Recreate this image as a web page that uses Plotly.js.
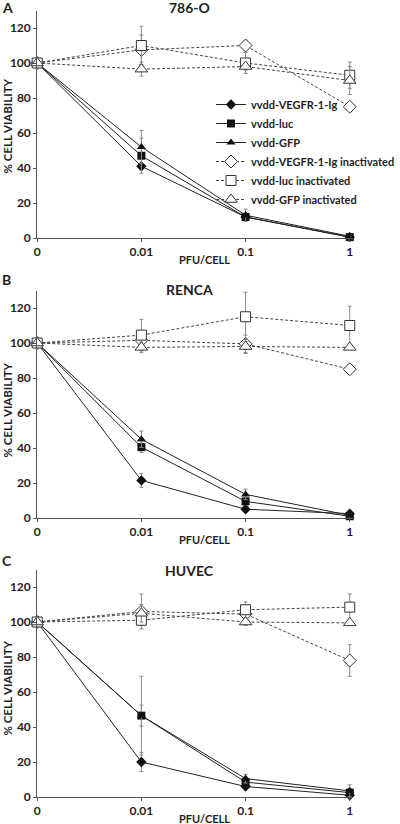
<!DOCTYPE html>
<html><head><meta charset="utf-8">
<script src="https://cdn.plot.ly/plotly-3.0.1.min.js"></script>
<style>html,body{margin:0;padding:0;background:#fff}#chart{width:400px;height:824px}</style>
</head><body><div id="chart"></div>
<script>
// ---- data ----
const doses = ['0', '0.01', '0.1', '1'];
const yTicks = [0, 20, 40, 60, 80, 100, 120];
const seriesNames = ['vvdd-VEGFR-1-Ig', 'vvdd-luc', 'vvdd-GFP',
  'vvdd-VEGFR-1-Ig inactivated', 'vvdd-luc inactivated', 'vvdd-GFP inactivated'];
const panelTitles = ['786-O', 'RENCA', 'HUVEC'];
const panelLetters = ['A', 'B', 'C'];
const xTitle = 'PFU/CELL';
const yTitle = '% CELL VIABILITY';

// 786-O
const o786_vegfr = [100, 41, 12, 0.5];
const o786_luc = [100, 47, 12, 0.5];
const o786_gfp = [100, 52, 13, 1];
const o786_vegfrInact = [100, 107.5, 110, 75];
const o786_lucInact = [100, 110, 100, 93];
const o786_gfpInact = [100, 96.5, 98, 90];
const o786_vegfrErr = [0, 1.5, 1.5, 0.5];
const o786_lucErr = [0, 10, 2, 0.5];
const o786_gfpErr = [0, 9.5, 3.5, 1];
const o786_vegfrInactErr = [0, 8.5, 3, 2];
const o786_lucInactErr = [0, 11, 6, 7.5];
const o786_gfpInactErr = [0, 4, 2, 8];

// RENCA
const renca_vegfr = [100, 21.5, 5, 2.5];
const renca_luc = [100, 40.5, 9.5, 1];
const renca_gfp = [100, 45, 13.5, 1.5];
const renca_vegfrInact = [100, 101.5, 99.5, 85];
const renca_lucInact = [100, 104.5, 115, 110];
const renca_gfpInact = [100, 97.5, 98, 97.5];
const renca_vegfrErr = [0, 4, 1, 1];
const renca_lucErr = [0, 3, 2, 0.5];
const renca_gfpErr = [0, 4.7, 3, 1];
const renca_vegfrInactErr = [0, 3, 5, 2.5];
const renca_lucInactErr = [0, 9, 14, 11];
const renca_gfpInactErr = [0, 3, 4, 1];

// HUVEC
const huvec_vegfr = [100, 20, 6, 1];
const huvec_luc = [100, 46.5, 8.5, 2.5];
const huvec_gfp = [100, 46.5, 10.5, 3.5];
const huvec_vegfrInact = [100, 106, 104.5, 78];
const huvec_lucInact = [100, 101, 107, 108.5];
const huvec_gfpInact = [100, 105, 100, 99.5];
const huvec_vegfrErr = [0, 5.5, 1, 1];
const huvec_lucErr = [0, 22.5, 2, 2];
const huvec_gfpErr = [0, 6, 2.5, 3.5];
const huvec_vegfrInactErr = [0, 10, 3, 9];
const huvec_lucInactErr = [0, 3, 4.5, 7.5];
const huvec_gfpInactErr = [0, 5, 2, 1];

const panels = [
  { vals: [o786_vegfr, o786_luc, o786_gfp, o786_vegfrInact, o786_lucInact, o786_gfpInact],
    errs: [o786_vegfrErr, o786_lucErr, o786_gfpErr, o786_vegfrInactErr, o786_lucInactErr, o786_gfpInactErr] },
  { vals: [renca_vegfr, renca_luc, renca_gfp, renca_vegfrInact, renca_lucInact, renca_gfpInact],
    errs: [renca_vegfrErr, renca_lucErr, renca_gfpErr, renca_vegfrInactErr, renca_lucInactErr, renca_gfpInactErr] },
  { vals: [huvec_vegfr, huvec_luc, huvec_gfp, huvec_vegfrInact, huvec_lucInact, huvec_gfpInact],
    errs: [huvec_vegfrErr, huvec_lucErr, huvec_gfpErr, huvec_vegfrInactErr, huvec_lucInactErr, huvec_gfpInactErr] }
];

// ---- styles ----
const FONT = 'Lato, "Liberation Sans", sans-serif';
const INK = '#1e1e1e';
const styles = [
  { symbol: 'diamond', size: 8, fill: '#111', dash: 'solid', lc: '#222' },
  { symbol: 'square', size: 8, fill: '#111', dash: 'solid', lc: '#222' },
  { symbol: 'triangle-up', size: 8, fill: '#111', dash: 'solid', lc: '#222' },
  { symbol: 'diamond', size: 10, fill: '#fff', dash: '3px,2px', lc: '#444' },
  { symbol: 'square', size: 10, fill: '#fff', dash: '3px,2px', lc: '#444' },
  { symbol: 'triangle-up', size: 11, fill: '#fff', dash: '3px,2px', lc: '#444' }
];

const H = 824, W = 400;
const py = p => 1 - p / H;
const px = p => p / W;
// y pixel spans of each panel's plot area (top, bottom)
const panelPix = [[10.5, 238], [290.5, 518], [569.5, 797]];

const traces = [];
panels.forEach((pan, pi) => {
  const ax = pi === 0 ? '' : String(pi + 1);
  pan.vals.forEach((v, si) => {
    const s = styles[si];
    traces.push({
      type: 'scatter', mode: 'lines+markers',
      x: doses, y: v,
      xaxis: 'x' + ax, yaxis: 'y' + ax,
      name: seriesNames[si],
      legendgroup: seriesNames[si],
      showlegend: pi === 0,
      cliponaxis: false,
      line: { color: s.lc, width: 1, dash: s.dash },
      marker: { symbol: s.symbol, size: s.size, color: s.fill,
        line: { color: si < 3 ? '#111' : '#333', width: si < 3 ? 0 : 1 } },
      error_y: { type: 'data', array: pan.errs[si], symmetric: true,
        color: '#8a8a8a', thickness: 1, width: 2 }
    });
  });
});

const layout = {
  width: W, height: H,
  margin: { l: 0, r: 0, t: 0, b: 0 },
  paper_bgcolor: '#fff', plot_bgcolor: '#fff',
  font: { family: FONT, color: INK, size: 12, weight: 'bold' },
  showlegend: true,
  legend: {
    x: px(227), y: py(152), xanchor: 'left', yanchor: 'middle',
    bgcolor: 'rgba(0,0,0,0)', borderwidth: 0,
    font: { family: FONT, size: 11, color: INK, weight: 'bold' },
    tracegroupgap: 0
  },
  annotations: []
};

panelPix.forEach((pp, pi) => {
  const ax = pi === 0 ? '' : String(pi + 1);
  layout['xaxis' + ax] = {
    type: 'category', categoryarray: doses, categoryorder: 'array',
    domain: [px(40), px(380)], range: [0, 3.035],
    anchor: 'y' + ax, showgrid: false, zeroline: false,
    showline: true, linecolor: '#555', linewidth: 1,
    ticks: 'outside', ticklen: 3, tickcolor: '#555',
    tickfont: { family: FONT, size: 12, color: INK, weight: 'bold' },
    fixedrange: true
  };
  layout['yaxis' + ax] = {
    domain: [py(pp[1]), py(pp[0])], range: [0, 130],
    anchor: 'x' + ax, showgrid: false, zeroline: false,
    showline: true, linecolor: '#555', linewidth: 1,
    ticks: 'outside', ticklen: 3, tickcolor: '#555',
    tickvals: yTicks,
    tickfont: { family: FONT, size: 12, color: INK, weight: 'bold' },
    fixedrange: true
  };
});

const titleY = [7, 290, 570];
const letterY = [7, 279, 560];
const xTitleY = [259, 539, 818];
const yTitleY = [126, 410, 688];
for (let i = 0; i < 3; i++) {
  layout.annotations.push({ xref: 'paper', yref: 'paper', x: px(204), y: py(titleY[i]),
    text: panelTitles[i], showarrow: false, xanchor: 'center', yanchor: 'middle',
    font: { family: FONT, size: 14, color: INK, weight: 'bold' } });
  layout.annotations.push({ xref: 'paper', yref: 'paper', x: px(0), y: py(letterY[i]),
    text: panelLetters[i], showarrow: false, xanchor: 'left', yanchor: 'middle',
    font: { family: FONT, size: 14, color: INK, weight: 'bold' } });
  layout.annotations.push({ xref: 'paper', yref: 'paper', x: px(220), y: py(xTitleY[i]),
    text: xTitle, showarrow: false, xanchor: 'center', yanchor: 'middle',
    font: { family: FONT, size: 11, color: INK, weight: 'bold' } });
  layout.annotations.push({ xref: 'paper', yref: 'paper', x: px(7), y: py(yTitleY[i]),
    text: yTitle, showarrow: false, xanchor: 'center', yanchor: 'middle', textangle: -90,
    font: { family: FONT, size: 11.5, color: INK, weight: 'bold' } });
}

Plotly.newPlot('chart', traces, layout, { displayModeBar: false, staticPlot: true });
</script>
</body></html>
